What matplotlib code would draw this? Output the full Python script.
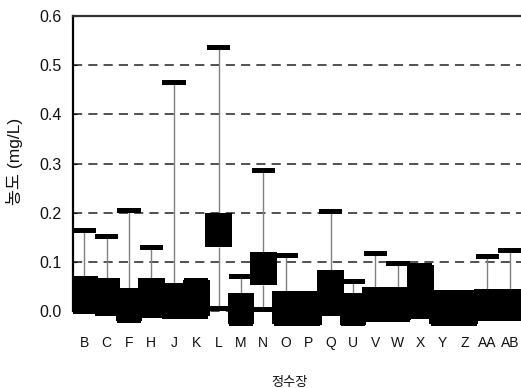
import numpy as np
import matplotlib.pyplot as plt

plt.rcParams['font.family'] = ['Liberation Sans', 'Noto Sans CJK KR', 'DejaVu Sans']

# 정수장별 농도 (mg/L)
plants = ['B', 'C', 'F', 'H', 'J', 'K', 'L', 'M', 'N', 'O',
          'P', 'Q', 'U', 'V', 'W', 'X', 'Y', 'Z', 'AA', 'AB']
box_low = [0.0, -0.005, -0.02, -0.008, -0.01, -0.01, 0.13, -0.027, 0.053, -0.027,
           -0.028, -0.005, -0.028, -0.018, -0.018, -0.01, -0.027, -0.027, -0.015, -0.015]
box_high = [0.072, 0.067, 0.047, 0.067, 0.057, 0.063, 0.2, 0.036, 0.12, 0.04,
            0.036, 0.083, 0.036, 0.05, 0.05, 0.093, 0.038, 0.038, 0.045, 0.045]
max_val = [0.163, 0.152, 0.205, 0.13, 0.465, 0.063, 0.535, 0.07, 0.285, 0.113,
           0.036, 0.203, 0.06, 0.118, 0.097, 0.093, 0.038, 0.038, 0.112, 0.123]
min_val = [0.0, -0.005, -0.02, -0.008, -0.01, -0.01, 0.005, -0.027, 0.003, -0.027,
           -0.028, -0.005, -0.028, -0.018, -0.018, -0.01, -0.027, -0.027, -0.015, -0.015]
y_ticks = [0.0, 0.1, 0.2, 0.3, 0.4, 0.5, 0.6]


def draw():
    fig = plt.figure(figsize=(5.21, 3.88), dpi=100)
    ax = fig.add_axes([0.140, 0.160, 0.860, 0.799])
    x = np.arange(len(plants))
    lo = np.array(box_low)
    hi = np.array(box_high)
    mx = np.array(max_val)
    mn = np.array(min_val)

    ax.set_axisbelow(True)
    ax.grid(axis='y', color='#222222', linestyle=(0, (6, 4)), linewidth=1.1)

    # whiskers
    ax.vlines(x, hi, mx, color='#808080', linewidth=1, zorder=2)
    ax.vlines(x, mn, lo, color='#808080', linewidth=1, zorder=2)
    # caps
    cap_h = 0.01
    ax.bar(x, cap_h, bottom=mx - cap_h / 2, width=1.05, color='black', zorder=3)
    ax.bar(x, cap_h, bottom=mn - cap_h / 2, width=1.05, color='black', zorder=3)
    # boxes
    ax.bar(x, hi - lo, bottom=lo, width=1.2, color='black', zorder=3)

    ax.set_xlim(-0.5, 19.5)
    ax.set_ylim(-0.03, 0.6)
    ax.set_yticks(y_ticks)
    ax.set_yticklabels(['%.1f' % v for v in y_ticks])
    ax.set_xticks(x)
    ax.set_xticklabels(plants)

    for s in ['right', 'bottom']:
        ax.spines[s].set_visible(False)
    ax.spines['left'].set_bounds(0.0, 0.6)
    ax.spines['left'].set_linewidth(1.6)
    ax.spines['top'].set_linewidth(1.6)
    ax.spines['top'].set_color('#333333')

    ax.tick_params(axis='y', direction='in', length=3, pad=8, labelsize=11.5, colors='#111111')
    ax.tick_params(axis='x', length=0, pad=7, labelsize=10, colors='#111111')

    ax.set_xlabel('정수장', fontsize=9.5, color='#111111')
    ax.xaxis.set_label_coords(0.483, -0.165)
    ax.set_ylabel('농도 (mg/L)', fontsize=12.5, color='#111111')
    ax.yaxis.set_label_coords(-0.112, 0.53)

    fig.savefig('out.png', dpi=100)


if __name__ == '__main__':
    draw()
